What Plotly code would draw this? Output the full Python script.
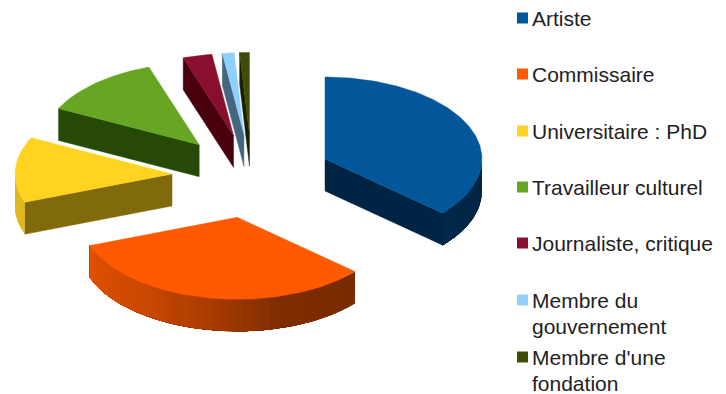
import math
import plotly.graph_objects as go

# Shares of respondents by occupation, in percent
categories = ["Artiste", "Commissaire", "Universitaire : PhD", "Travailleur culturel",
              "Journaliste, critique", "Membre du\ngouvernement", "Membre d'une\nfondation"]
shares = [36.5, 32.9, 12.9, 12.5, 3.0, 1.2, 1.0]

top_colors = ["#02569a", "#ff5a00", "#ffd320", "#66a622", "#8a0f2e", "#8fd0ff", "#3e4d08"]
wall_colors = ["#002444", "#7a2600", "#806a0c", "#264a06", "#47000c", "#44667f", "#1a2000"]

# Projection of the tilted pie, in canvas pixels
CX, CY = 252, 176.2
RX, RY = 157, 82
EXPLODE = 0.51
DEPTH = 32
legend_y = [18, 74, 131, 187, 243, 300, 357]
legend_dy = 26


def point(apex, angle, z=0):
    a = math.radians(angle)
    return apex[0] + RX * math.sin(a), apex[1] - RY * math.cos(a) + z


def polygon(fig, xy, color, width=0.4):
    xs, ys = zip(*xy)
    fig.add_trace(go.Scatter(x=list(xs) + [xs[0]], y=list(ys) + [ys[0]], mode="lines",
                             fill="toself", fillcolor=color,
                             line=dict(color=color, width=width), hoverinfo="skip"))


def shade(color, angle):
    # Rim lighting brightens towards the left of the pie
    stops = [(90, .42), (131, .47), (165, .5), (190, .66), (215, .79), (250, .88), (270, .88)]
    for (a0, f0), (a1, f1) in zip(stops, stops[1:]):
        if a0 <= angle <= a1:
            f = f0 + (f1 - f0) * (angle - a0) / (a1 - a0)
            break
    r, g, b = (int(color[i:i + 2], 16) for i in (1, 3, 5))
    return f"rgb({r * f:.0f},{g * f:.0f},{b * f:.0f})"


def rim(fig, apex, lo, hi, color):
    # Each strip runs to the far end of the arc and the next one paints over it,
    # which leaves no anti-aliased seams between neighbouring strips.
    strips = max(1, int((hi - lo) / 3))
    for k in range(strips):
        a0 = lo + (hi - lo) * k / strips
        a1 = lo + (hi - lo) * (k + 1) / strips
        n = max(2, int(hi - a0))
        arc = [a0 + (hi - a0) * j / n for j in range(n + 1)]
        outline = [point(apex, a) for a in arc] + [point(apex, a, DEPTH) for a in reversed(arc)]
        xs, ys = zip(*outline)
        fig.add_trace(go.Scatter(x=list(xs) + [xs[0]], y=list(ys) + [ys[0]], mode="lines",
                                 fill="toself", fillcolor=shade(color, (a0 + a1) / 2),
                                 line=dict(width=0), hoverinfo="skip"))


fig = go.Figure()
start = 0.0
for share, top, wall in zip(shares, top_colors, wall_colors):
    end = start + share * 3.6
    mid = math.radians((start + end) / 2)
    apex = (CX + EXPLODE * RX * math.sin(mid), CY - EXPLODE * RY * math.cos(mid))

    # Radial walls that face the viewer
    if math.sin(math.radians(start)) < -1e-6:
        polygon(fig, [apex, point(apex, start), point(apex, start, DEPTH),
                      (apex[0], apex[1] + DEPTH)], wall)
    if math.sin(math.radians(end)) > 1e-6:
        polygon(fig, [apex, point(apex, end), point(apex, end, DEPTH),
                      (apex[0], apex[1] + DEPTH)], wall)

    # Outer rim
    lo, hi = max(start, 90), min(end, 270)
    if hi > lo:
        rim(fig, apex, lo, hi, top)

    # Top face
    steps = max(2, int(end - start))
    arc = [point(apex, start + (end - start) * k / steps) for k in range(steps + 1)]
    polygon(fig, [apex] + arc, top)
    start = end

# Legend: colour keys as square markers, labels as left-aligned text
fig.add_trace(go.Scatter(x=[522.5] * len(categories), y=legend_y, mode="markers",
                         marker=dict(symbol="square", size=11, color=top_colors, line=dict(width=0)),
                         hoverinfo="skip"))
text_x, text_y, text_s = [], [], []
for label, y in zip(categories, legend_y):
    for n, line in enumerate(label.split("\n")):
        text_x.append(532)
        text_y.append(y + 2.6 + n * legend_dy)
        text_s.append(line)
fig.add_trace(go.Scatter(x=text_x, y=text_y, text=text_s, mode="text", textposition="middle right",
                         textfont=dict(family="Liberation Sans", size=21, color="#222222"),
                         cliponaxis=False, hoverinfo="skip"))

fig.update_layout(width=726, height=394, autosize=False, showlegend=False,
                  margin=dict(l=0, r=0, t=0, b=0), paper_bgcolor="white", plot_bgcolor="white",
                  xaxis=dict(range=[0, 726], visible=False, fixedrange=True),
                  yaxis=dict(range=[394, 0], visible=False, fixedrange=True))
fig.write_html("out.html", config=dict(displayModeBar=False))
